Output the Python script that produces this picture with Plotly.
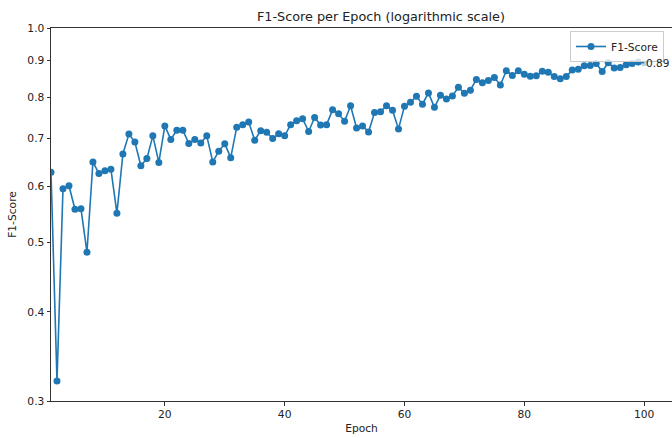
import math
import plotly.graph_objects as go

epochs = list(range(1, 101))
f1_scores = [
    0.628, 0.320, 0.595, 0.601, 0.557, 0.558, 0.485, 0.649, 0.625, 0.631,
    0.634, 0.550, 0.666, 0.710, 0.692, 0.641, 0.656, 0.706, 0.648, 0.729,
    0.698, 0.719, 0.719, 0.689, 0.698, 0.690, 0.706, 0.649, 0.672, 0.688,
    0.658, 0.726, 0.732, 0.738, 0.696, 0.718, 0.714, 0.700, 0.711, 0.706,
    0.732, 0.741, 0.746, 0.716, 0.749, 0.731, 0.732, 0.768, 0.758, 0.740,
    0.778, 0.724, 0.729, 0.715, 0.761, 0.763, 0.778, 0.767, 0.722, 0.777,
    0.787, 0.802, 0.782, 0.811, 0.774, 0.805, 0.795, 0.803, 0.826, 0.810,
    0.818, 0.847, 0.838, 0.844, 0.852, 0.832, 0.871, 0.858, 0.871, 0.861,
    0.856, 0.857, 0.870, 0.867, 0.855, 0.849, 0.855, 0.873, 0.875, 0.885,
    0.886, 0.892, 0.869, 0.894, 0.879, 0.880, 0.888, 0.892, 0.896, 0.894,
]
y_tick_vals = [0.3, 0.4, 0.5, 0.6, 0.7, 0.8, 0.9, 1.0]
y_tick_text = ["0.3", "0.4", "0.5", "0.6", "0.7", "0.8", "0.9", "1.0"]
x_tick_vals = [20, 40, 60, 80, 100]

BLUE = "#1f77b4"
FONT = "DejaVu Sans"

marker_colors = [BLUE] * (len(epochs) - 1) + ["rgba(31,119,180,0.3)"]

fig = go.Figure()
fig.add_trace(go.Scatter(
    x=epochs, y=f1_scores, mode="lines+markers", name="F1-Score",
    line=dict(color=BLUE, width=1.6),
    marker=dict(color=marker_colors, size=7, line=dict(width=0)),
))

# annotations on a log axis take log10 coordinates
fig.add_annotation(
    x=epochs[-1], y=math.log10(f1_scores[-1]), text=f"{f1_scores[-1]:.2f}",
    xref="x", yref="y",
    xanchor="left", yanchor="middle", xshift=0, showarrow=False,
    font=dict(family=FONT, size=10.5, color="#222"),
)

fig.update_layout(
    width=672, height=438,
    margin=dict(l=51, r=0, t=28, b=37),
    paper_bgcolor="white", plot_bgcolor="white",
    font=dict(family=FONT, size=10.7, color="#222"),
    title=dict(text="F1-Score per Epoch (logarithmic scale)",
               x=357 / 672, xanchor="center", xref="paper",
               y=1 - 17 / 438, yref="container", yanchor="middle",
               font=dict(family=FONT, size=12.8, color="#222")),
    showlegend=True,
    legend=dict(x=(664 - 51) / (672 - 51), xref="paper", xanchor="right",
                y=1 - 3 / 373, yanchor="top",
                bgcolor="rgba(255,255,255,0.8)", bordercolor="#cccccc",
                borderwidth=1, font=dict(family=FONT, size=10.7, color="#222"),
                itemwidth=30, tracegroupgap=0),
)

fig.update_xaxes(
    range=[1, 104.65], tickvals=x_tick_vals, ticks="outside", ticklen=3.5,
    tickcolor="#333", showgrid=False, zeroline=False,
    showline=True, linecolor="#333", linewidth=1, mirror=True,
    title=dict(text="Epoch", standoff=4, font=dict(family=FONT, size=10.7)),
)
fig.update_yaxes(
    type="log", range=[-0.5228787, 0], tickvals=y_tick_vals, ticktext=y_tick_text,
    ticks="outside", ticklen=3.5, tickcolor="#333", showgrid=False, zeroline=False,
    showline=True, linecolor="#333", linewidth=1,
    title=dict(text="F1-Score", standoff=8, font=dict(family=FONT, size=10.7)),
)

fig.write_html(
    "out.html",
    config={"displayModeBar": False},
    post_script="document.body.style.margin='0';document.body.style.padding='0';",
)
